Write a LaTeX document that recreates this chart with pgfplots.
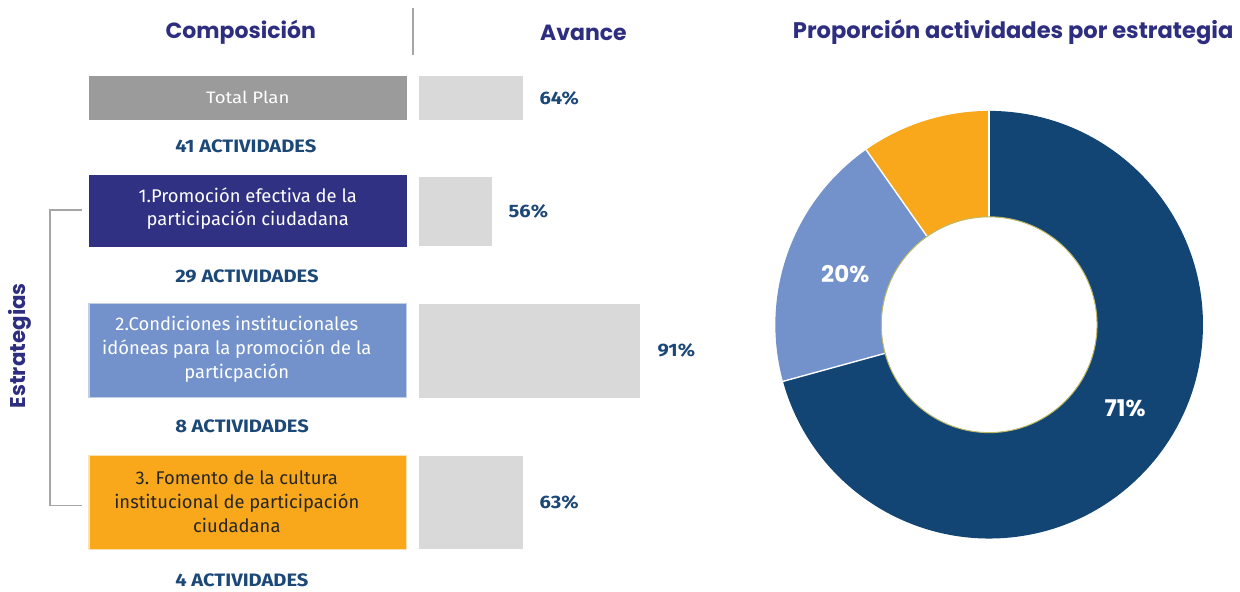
\documentclass[border=0pt]{standalone}
\usepackage{pgfplots}
\pgfplotsset{compat=1.18}
\usepackage{pgfplotstable}
\usetikzlibrary{calc}
\usepackage{fontspec}
\setmainfont{Fira Sans}
\newfontfamily\pop{Poppins}
\newfontfamily\wide[FakeStretch=1.12]{Fira Sans}
\definecolor{navy}{RGB}{46,46,128}
\definecolor{tgray}{RGB}{155,155,155}
\definecolor{sA}{RGB}{48,49,131}
\definecolor{sB}{RGB}{115,146,203}
\definecolor{sC}{RGB}{249,168,27}
\definecolor{barg}{RGB}{217,217,217}
\definecolor{lblue}{RGB}{28,72,120}
\definecolor{dblue}{RGB}{19,69,116}
\definecolor{brk}{RGB}{166,166,166}
\definecolor{ring}{RGB}{190,185,100}

% activities per strategy (donut)
\pgfplotstableread{
est act
1 29
2 8
3 4
}\acts
\pgfplotstablegetelem{0}{act}\of\acts \edef\vA{\pgfplotsretval}
\pgfplotstablegetelem{1}{act}\of\acts \edef\vB{\pgfplotsretval}
\pgfplotstablegetelem{2}{act}\of\acts \edef\vC{\pgfplotsretval}
\pgfmathsetmacro\tot{\vA+\vB+\vC}
\pgfmathsetmacro\aA{90}
\pgfmathsetmacro\aB{\aA-360*\vA/\tot}
\pgfmathsetmacro\aC{\aB-360*\vB/\tot}
\pgfmathsetmacro\aD{\aC-360*\vC/\tot}
\def\Ro{107pt}
\def\Ri{54pt}

\begin{document}
\begin{tikzpicture}
% ---------- composition boxes ----------
\begin{axis}[x=0.5pt,y=0.5pt,y dir=reverse,xmin=0,xmax=318,ymin=0,ymax=592,
  hide axis,clip=false,at={(44.5pt,0)},anchor=south west]
\addplot[xbar,bar shift=0pt,bar width=44,fill=tgray,draw=none] coordinates {(318,98)};
\addplot[xbar,bar shift=0pt,bar width=72,fill=sA,draw=none] coordinates {(318,211)};
\addplot[xbar,bar shift=0pt,bar width=94,fill=sB,draw=sB!45!white,line width=0.6pt] coordinates {(318,351)};
\addplot[xbar,bar shift=0pt,bar width=94,fill=sC,draw=sC!35!white,line width=0.6pt] coordinates {(318,503)};
\end{axis}

% ---------- avance bars ----------
\begin{axis}[x=0.5pt,y=0.5pt,y dir=reverse,xmin=0,xmax=300,ymin=0,ymax=592,
  hide axis,clip=false,at={(209.5pt,0)},anchor=south west,
  point meta=explicit symbolic,
  nodes near coords={\pgfplotspointmeta\%},
  every node near coord/.append style={anchor=west,xshift=5pt,text=lblue,font=\wide\bfseries\fontsize{9}{10}\selectfont}]
\addplot[xbar,bar shift=0pt,bar width=44,fill=barg,draw=none] coordinates {(104,98) [64]};
\addplot[xbar,bar shift=0pt,bar width=69,fill=barg,draw=none] coordinates {(73,212) [56]};
\addplot[xbar,bar shift=0pt,bar width=94,fill=barg,draw=none] coordinates {(222,351) [91]};
\addplot[xbar,bar shift=0pt,bar width=93,fill=barg,draw=none] coordinates {(104,503) [63]};
\end{axis}

% ---------- main canvas axis (pixel-like coordinates) ----------
\begin{axis}[x=0.5pt,y=0.5pt,y dir=reverse,xmin=0,xmax=1240,ymin=0,ymax=592,
  hide axis,clip=false,at={(0,0)},anchor=south west]
\path (axis cs:0,0) rectangle (axis cs:1240,592);
% titles
\node[anchor=base,text=navy,font=\pop\bfseries\fontsize{11}{13}\selectfont] at (axis cs:241,39) {Composición};
\node[anchor=base,text=navy,font=\pop\bfseries\fontsize{11}{13}\selectfont] at (axis cs:584,41) {Avance};
\node[anchor=base,text=navy,font=\pop\bfseries\fontsize{11.3}{13}\selectfont] at (axis cs:1014,39) {Proporción actividades por estrategia};
\draw[brk,line width=1pt] (axis cs:413,8) -- (axis cs:413,55);
% bracket and side label
\draw[brk,line width=0.8pt] (axis cs:82,210) -- (axis cs:50,210) -- (axis cs:50,506) -- (axis cs:82,506);
\node[rotate=90,text=navy,font=\pop\bfseries\fontsize{10.7}{12}\selectfont] at (axis cs:20,346) {Estrategias};
% activity counts
\begin{scope}[every node/.style={anchor=west,text=lblue,font=\wide\bfseries\fontsize{9}{10}\selectfont,inner sep=0pt}]
\node at (axis cs:175,146) {41 ACTIVIDADES};
\node at (axis cs:175,277) {29 ACTIVIDADES};
\node at (axis cs:175,427) {8 ACTIVIDADES};
\node at (axis cs:175,581) {4 ACTIVIDADES};
\end{scope}
% donut
\coordinate (C) at (axis cs:990,325);
\fill[dblue] ($(C)+(\aA:\Ro)$) arc[start angle=\aA,end angle=\aB,radius=\Ro] -- ($(C)+(\aB:\Ri)$) arc[start angle=\aB,end angle=\aA,radius=\Ri] -- cycle;
\fill[sB] ($(C)+(\aB:\Ro)$) arc[start angle=\aB,end angle=\aC,radius=\Ro] -- ($(C)+(\aC:\Ri)$) arc[start angle=\aC,end angle=\aB,radius=\Ri] -- cycle;
\fill[sC] ($(C)+(\aC:\Ro)$) arc[start angle=\aC,end angle=\aD,radius=\Ro] -- ($(C)+(\aD:\Ri)$) arc[start angle=\aD,end angle=\aC,radius=\Ri] -- cycle;
\draw[white,line width=0.7pt] ($(C)+(\aA:\Ri)$) -- ($(C)+(\aA:\Ro)$);
\draw[white,line width=0.7pt] ($(C)+(\aB:\Ri)$) -- ($(C)+(\aB:\Ro)$);
\draw[white,line width=0.7pt] ($(C)+(\aC:\Ri)$) -- ($(C)+(\aC:\Ro)$);
\draw[ring,line width=0.5pt] (C) circle[radius=\Ri];
\node[text=white,font=\pop\bfseries\fontsize{11.5}{13}\selectfont] at (axis cs:846,274) {20\%};
\node[text=white,font=\pop\bfseries\fontsize{11.5}{13}\selectfont] at (axis cs:1126,409) {71\%};
% texts in composition boxes
\node[text=white,font=\wide\fontsize{8.3}{12}\selectfont] at (axis cs:248,97) {Total Plan};
\node[text=white,align=center,font=\fontsize{9.2}{11.5}\selectfont] at (axis cs:248,209) {1.Promoción efectiva de la\\participación ciudadana};
\node[text=white,align=center,font=\fontsize{9.2}{12}\selectfont] at (axis cs:237,350) {2.Condiciones institucionales\\idóneas para la promoción de la\\particpación};
\node[text=black!85,align=center,font=\fontsize{9.2}{12}\selectfont] at (axis cs:237,502) {3. Fomento de la cultura\\institucional de participación\\ciudadana};
\end{axis}
\end{tikzpicture}
\end{document}
